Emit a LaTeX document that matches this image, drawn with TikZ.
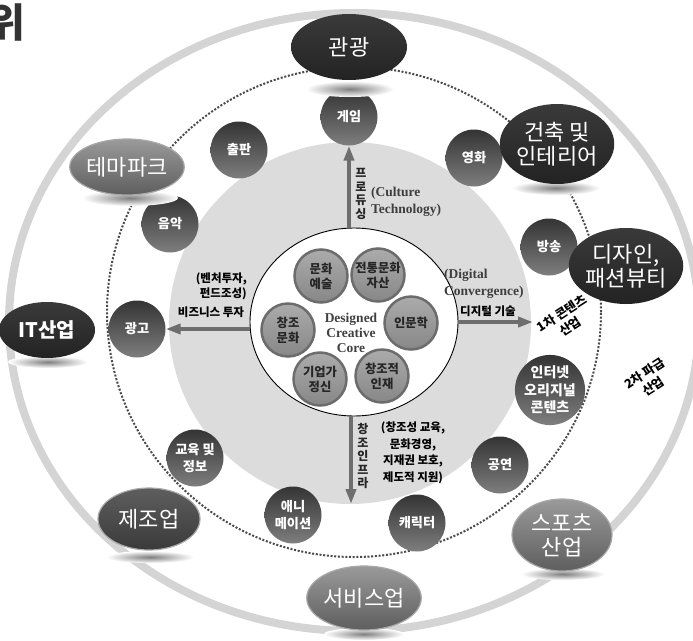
\documentclass[tikz,border=0pt]{standalone}
\usepackage{fontspec}
\setmainfont{Noto Sans CJK KR}
\newfontfamily\enserif{Liberation Serif}
\usetikzlibrary{arrows.meta,shapes.geometric}
\definecolor{ringgray}{HTML}{D4D4D4}
\definecolor{diskgray}{HTML}{DCDCDC}
\definecolor{dotgray}{HTML}{4A4A4A}
\definecolor{arrgray}{HTML}{6E6E6E}
\definecolor{darkA}{HTML}{3A3A3A}
\definecolor{darkB}{HTML}{232323}
\definecolor{midA}{HTML}{9A9A9A}
\definecolor{midB}{HTML}{5E5E5E}
\definecolor{rimgray}{HTML}{A8A8A8}
\definecolor{smallA}{HTML}{343434}
\definecolor{smallB}{HTML}{7E7E7E}
\definecolor{coreA}{HTML}{ABABAB}
\definecolor{coreB}{HTML}{878787}
\definecolor{coreRim}{HTML}{6C6C6C}
\definecolor{entext}{HTML}{3E3E3E}
\definecolor{titlegray}{HTML}{333333}
\tikzset{
  bigdark/.style={ellipse, inner sep=0pt, top color=darkA, bottom color=darkB, text=white, align=center,
     font=\fontsize{22}{24}\selectfont},
  bigmid/.style={ellipse, inner sep=0pt, top color=midA, bottom color=midB, draw=rimgray, line width=1.2pt, text=white, align=center,
     font=\fontsize{22}{24}\selectfont},
  smallc/.style={circle, minimum size=57pt, inner sep=0pt, top color=smallA, bottom color=smallB, text=white, align=center,
     font=\bfseries\fontsize{13.2}{16.5}\selectfont},
  corec/.style={circle, minimum size=53pt, inner sep=0pt, top color=coreA, bottom color=coreB, draw=coreRim, line width=2.5pt,
     text=black!85, align=center, font=\bfseries\fontsize{12.3}{15}\selectfont},
  arr/.style={draw=arrgray, line width=4.8pt, -{Triangle[length=15pt,width=10pt]}},
  lbl/.style={text=black, align=center, font=\bfseries\fontsize{11.5}{15}\selectfont, inner sep=0pt},
  vlbl/.style={text=black!85, align=center, font=\bfseries\fontsize{12}{13.5}\selectfont, inner sep=0pt},
  enlbl/.style={text=entext, align=left, font=\enserif\bfseries\fontsize{13.5}{17}\selectfont, inner sep=0pt},
  shadowst/.style={inner color=black!50, outer color=white},
}
\begin{document}
\begin{tikzpicture}[x=1pt,y=-1pt]
\useasboundingbox (0,0) rectangle (693,640);
% outer ring
\draw[ringgray, line width=8pt] (354,322) ellipse [x radius=345pt, y radius=309pt];
% gray disk
\fill[diskgray] (350,323) circle [radius=181pt];
% dotted ellipse
\draw[dotgray, line width=2pt, dash pattern=on 2pt off 1.7pt] (354,312) ellipse [x radius=247pt, y radius=245pt];
% title fragment
\node[anchor=east, inner sep=0pt, text=titlegray, font=\bfseries\fontsize{40}{40}\selectfont] (title) at (26,22) {위};
% small content circles
\node[smallc] (game) at (349,117) {게임};
\node[smallc] (pub) at (239,150) {출판};
\node[smallc] (music) at (170,224) {음악};
\node[smallc] (movie) at (474,158) {영화};
\node[smallc] (bcast) at (549,247) {방송};
\node[smallc, font=\bfseries\fontsize{14}{17.5}\selectfont] (net) at (550,390) {인터넷\\오리지널\\콘텐츠};
\node[smallc] (perf) at (500,465) {공연};
\node[smallc] (char) at (417,523) {캐릭터};
\node[smallc] (ani) at (293,515) {애니\\메이션};
\node[smallc] (edu) at (195,458) {교육 및\\정보};
\node[smallc] (ad) at (137,329) {광고};
% shadows
\shade[shadowst] (350,89) ellipse [x radius=44pt, y radius=8pt];
\shade[shadowst] (556,188) ellipse [x radius=44pt, y radius=7pt];
\shade[shadowst] (130,198) ellipse [x radius=48pt, y radius=8pt];
\shade[shadowst] (150,557) ellipse [x radius=44pt, y radius=6pt];
\shade[shadowst] (48,362) ellipse [x radius=40pt, y radius=6pt];
\shade[shadowst] (563,574) ellipse [x radius=42pt, y radius=6pt];
\shade[shadowst] (364,634) ellipse [x radius=40pt, y radius=6pt];
% big industry ellipses
\node[bigdark, minimum width=116pt, minimum height=66pt] (tour) at (349,47) {관광};
\node[bigdark, minimum width=100pt, minimum height=80pt] (arch) at (557,144) {건축 및\\인테리어};
\node[bigdark, minimum width=100pt, minimum height=76pt] (design) at (626,266) {디자인,\\패션뷰티};
\node[bigmid, minimum width=108pt, minimum height=56pt] (theme) at (127,167) {테마파크};
\node[bigdark, minimum width=96pt, minimum height=56pt, font=\bfseries\fontsize{20}{24}\selectfont] (it) at (47,330) {IT산업};
\node[bigdark, top color=midB, bottom color=darkA, draw=rimgray, line width=1.2pt, minimum width=102pt, minimum height=62pt] (manu) at (149,519) {제조업};
\node[bigmid, minimum width=96pt, minimum height=64pt] (serv) at (364,598) {서비스업};
\node[bigmid, minimum width=100pt, minimum height=72pt] (sport) at (562,535) {스포츠\\산업};
% core
\node[ellipse, draw=black, line width=0.9pt, fill=white, minimum width=208pt, minimum height=188pt, inner sep=0pt] (core) at (354,322) {};
\node[enlbl, align=center, text=black!75, font=\enserif\bfseries\fontsize{13.5}{15}\selectfont] (coretext) at (351,333) {Designed\\Creative\\Core};
\node[corec] (c1) at (321,276) {문화\\예술};
\node[corec] (c2) at (378,275) {전통문화\\자산};
\node[corec] (c3) at (288,330) {창조\\문화};
\node[corec] (c4) at (411,323) {인문학};
\node[corec] (c5) at (320,379) {기업가\\정신};
\node[corec] (c6) at (382,376) {창조적\\인재};
% arrows
\coordinate (rend) at (533,322);
\coordinate (dend) at (351,504);
\draw[arr] (core.north -| game.south) -- (game.south);
\draw[arr] (core.west |- ad.east) -- (ad.east);
\draw[arr] (core.east |- rend) -- (rend);
\draw[arr] (core.south -| dend) -- (dend);
% arrow labels
\node[vlbl] (produce) at (361,194) {프\\로\\듀\\싱};
\node[enlbl, anchor=west] (ct) at (371,202) {(Culture\\Technology)};
\node[lbl, anchor=east, align=right] (venture) at (247,286) {(벤처투자,\\펀드조성)};
\node[lbl] (biz) at (211,312) {비즈니스 투자};
\node[enlbl, anchor=west] (dc) at (444,284) {(Digital\\Convergence)};
\node[lbl] (digi) at (488,311) {디지털 기술};
\node[vlbl] (infra) at (363,456) {창\\조\\인\\프\\라};
\node[lbl, font=\bfseries\fontsize{11.5}{16.5}\selectfont] (infratext) at (413,453) {(창조성 교육,\\문화경영,\\지재권 보호,\\제도적 지원)};
% ring labels
\node[lbl, rotate=33, font=\bfseries\fontsize{12.5}{15.5}\selectfont] (first) at (566,320) {1차 콘텐츠\\산업};
\node[lbl, rotate=33, font=\bfseries\fontsize{12.5}{15.5}\selectfont] (second) at (649,380) {2차 파급\\산업};
\end{tikzpicture}
\end{document}
